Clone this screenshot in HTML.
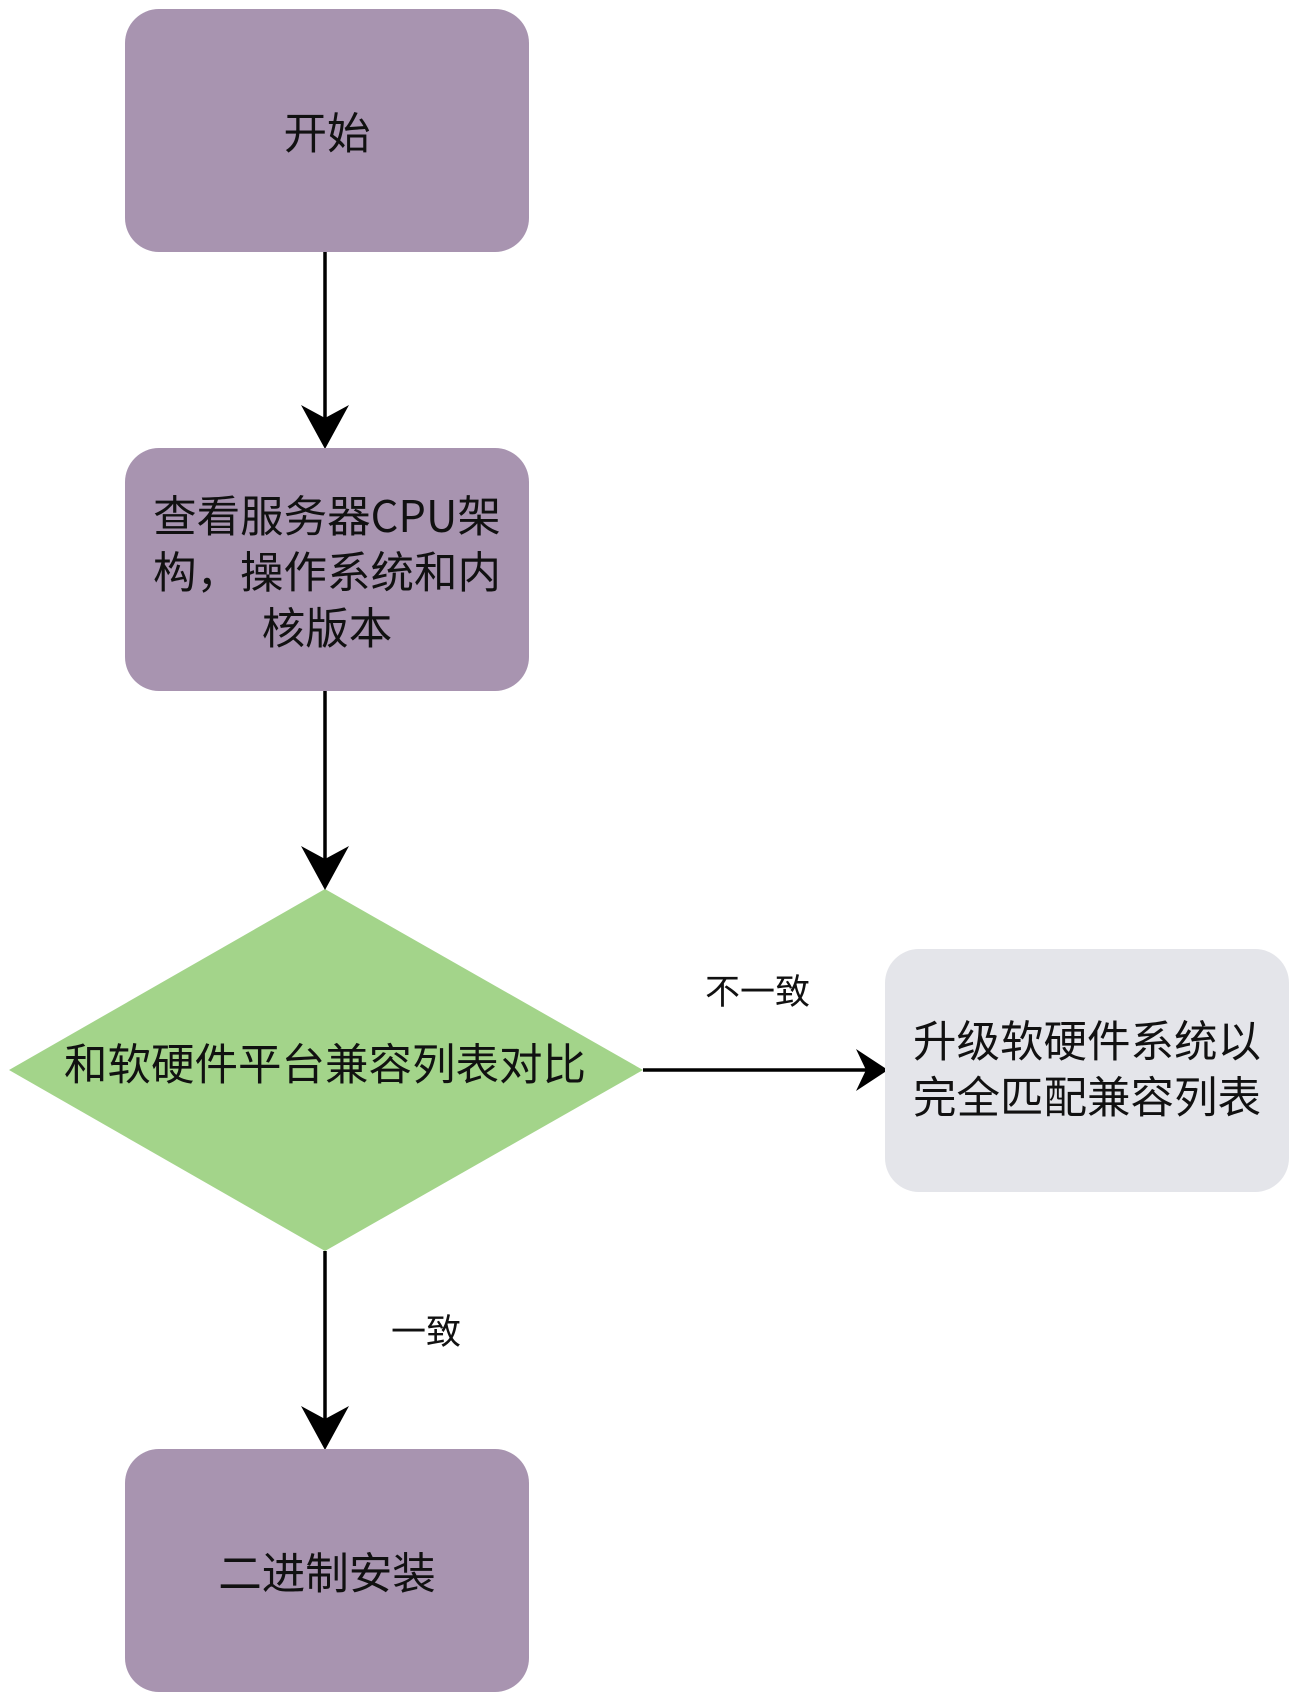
<!DOCTYPE html>
<html><head><meta charset="utf-8"><style>
html,body{margin:0;padding:0;background:#fff;}
body{width:1296px;height:1700px;position:relative;overflow:hidden;font-family:"Noto Sans CJK SC","Liberation Sans",sans-serif;color:#111;}
.box{position:absolute;border-radius:34px;display:flex;align-items:center;justify-content:center;text-align:center;font-size:43.5px;line-height:56px;box-sizing:border-box;}
.p{background:#a894b0;}
.g{background:#e4e5ea;}
.lbl{position:absolute;font-size:35px;line-height:40px;white-space:nowrap;}
</style></head><body>
<svg width="1296" height="1700" style="position:absolute;left:0;top:0">
<polygon points="325,889 643,1070 325,1251 9,1070" fill="#a3d48a"/>
<g stroke="#000" stroke-width="3.5" fill="none">
<line x1="325" y1="252" x2="325" y2="430"/>
<line x1="325" y1="691" x2="325" y2="872"/>
<line x1="325" y1="1251" x2="325" y2="1430"/>
<line x1="643" y1="1070" x2="868" y2="1070"/>
</g>
<g fill="#000">
<path d="M325,449 L301,405 L325,418 L349,405 Z"/>
<path d="M325,890 L301,846 L325,859 L349,846 Z"/>
<path d="M325,1450 L301,1406 L325,1419 L349,1406 Z"/>
<path d="M888,1070 L856,1049 L866,1070 L856,1091 Z"/>
</g>
</svg>
<div class="box p" style="left:125px;top:9px;width:404px;height:243px;">开始</div>
<div class="box p" style="left:125px;top:448px;width:404px;height:243px;padding:0 16px;">查看服务器CPU架构，操作系统和内核版本</div>
<div class="box" style="left:20px;top:1032px;width:610px;height:60px;white-space:nowrap;">和软硬件平台兼容列表对比</div>
<div class="box g" style="left:885px;top:949px;width:404px;height:243px;padding:0 22px 8px;">升级软硬件系统以完全匹配兼容列表</div>
<div class="box p" style="left:125px;top:1449px;width:404px;height:243px;">二进制安装</div>
<div class="lbl" style="left:705px;top:970px;">不一致</div>
<div class="lbl" style="left:391px;top:1310px;">一致</div>
</body></html>
